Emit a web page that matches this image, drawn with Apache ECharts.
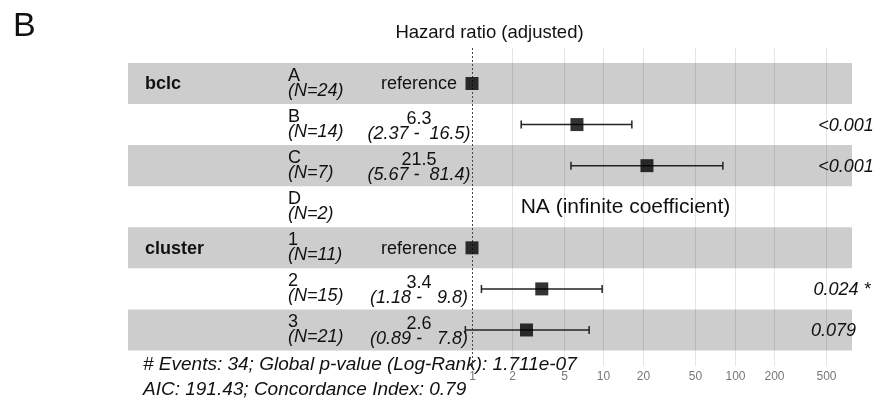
<!DOCTYPE html>
<html>
<head>
<meta charset="utf-8">
<script src="https://cdn.jsdelivr.net/npm/echarts@6/dist/echarts.min.js"></script>
<style>
  html, body { margin: 0; padding: 0; background: #fff; }
  #chart { width: 888px; height: 408px; }
</style>
</head>
<body>
<div id="chart"></div>
<script>
// data
const variables = ['bclc', 'cluster'];
const variableRows = [0, 4];
const levels = ['A', 'B', 'C', 'D', '1', '2', '3'];
const counts = [24, 14, 7, 2, 11, 15, 21];
const isReference = [true, false, false, false, true, false, false];
const hazardRatios = [1, 6.3, 21.5, null, 1, 3.4, 2.6];
const ciLow = [null, 2.37, 5.67, null, null, 1.18, 0.89];
const ciHigh = [null, 16.5, 81.4, null, null, 9.8, 7.8];
const pValues = ['', '<0.001 ***', '<0.001 ***', '', '', '0.024 *', '0.079'];
const naLabel = 'NA (infinite coefficient)';
const xTicks = [1, 2, 5, 10, 20, 50, 100, 200, 500];
const titleText = 'Hazard ratio (adjusted)';
const panelTag = 'B';
const footerLines = [
  '# Events: 34; Global p-value (Log-Rank): 1.711e-07',
  'AIC: 191.43; Concordance Index: 0.79'
];

// layout
const fontFamily = "'Liberation Sans', Arial, Helvetica, sans-serif";
const textColor = '#111';
const xOnePx = 472, decadePx = 131.3;
const gridLeft = 128, gridRight = 852, gridTop = 48, gridBottom = 366;
const row0Px = 83.5, rowPx = 41.08;
const colVariable = 145, colLevel = 288, colEstimate = 419;
const pAnchor = 802, pClip = 875, naCenter = 625.5;

const xMin = Math.pow(10, (gridLeft - xOnePx) / decadePx);
const xMax = Math.pow(10, (gridRight - xOnePx) / decadePx);
const yMin = (gridTop - row0Px) / rowPx;
const yMax = (gridBottom - row0Px) / rowPx;

const measureCtx = document.createElement('canvas').getContext('2d');
const textWidth = (text, font) => {
  measureCtx.font = font;
  return measureCtx.measureText(text).width;
};

const font = (size, style) => (style ? style + ' ' : '') + size + 'px ' + fontFamily;

const txt = (x, y, text, f, align) => ({
  type: 'text',
  x: x,
  y: y,
  style: {
    text: text,
    font: f,
    fill: textColor,
    align: align || 'left',
    verticalAlign: 'middle'
  }
});

const rows = levels.map((l, i) => [1, i]);

const bandSeries = {
  type: 'custom',
  silent: true,
  z: 1,
  data: rows.filter((r) => r[1] % 2 === 0),
  encode: { x: 0, y: 1 },
  renderItem: (params, api) => {
    const i = api.value(1);
    const y0 = api.coord([1, i - 0.5])[1];
    const y1 = api.coord([1, i + 0.5])[1];
    const cs = params.coordSys;
    return {
      type: 'rect',
      shape: { x: cs.x, y: y0, width: cs.width, height: y1 - y0 },
      style: { fill: '#cdcdcd' }
    };
  }
};

const gridSeries = {
  type: 'custom',
  silent: true,
  z: 2,
  data: xTicks.map((v) => [v, 0]),
  encode: { x: 0, y: 1 },
  renderItem: (params, api) => {
    const v = api.value(0);
    const x = Math.round(api.coord([v, 0])[0]) + 0.5;
    const cs = params.coordSys;
    const children = [];
    if (v === 1) {
      children.push({
        type: 'line',
        shape: { x1: x, y1: cs.y, x2: x, y2: cs.y + cs.height },
        style: { stroke: '#444', lineWidth: 1, lineDash: [2, 2] }
      });
    } else {
      children.push({
        type: 'line',
        shape: { x1: x, y1: cs.y, x2: x, y2: cs.y + cs.height },
        style: { stroke: 'rgba(0,0,0,0.1)', lineWidth: 1 }
      });
    }
    children.push({
      type: 'text',
      x: x,
      y: cs.y + cs.height + 11,
      style: {
        text: String(v),
        font: font(12),
        fill: '#777',
        align: 'center',
        verticalAlign: 'middle'
      }
    });
    return { type: 'group', children: children };
  }
};

const errorSeries = {
  type: 'custom',
  silent: true,
  z: 3,
  data: rows.filter((r) => ciLow[r[1]] != null).map((r) => [ciLow[r[1]], r[1], ciHigh[r[1]]]),
  encode: { x: [0, 2], y: 1 },
  renderItem: (params, api) => {
    const p0 = api.coord([api.value(0), api.value(1)]);
    const p1 = api.coord([api.value(2), api.value(1)]);
    const st = { stroke: '#222', lineWidth: 1.5 };
    return {
      type: 'group',
      children: [
        { type: 'line', shape: { x1: p0[0], y1: p0[1], x2: p1[0], y2: p1[1] }, style: st },
        { type: 'line', shape: { x1: p0[0], y1: p0[1] - 4, x2: p0[0], y2: p0[1] + 4 }, style: st },
        { type: 'line', shape: { x1: p1[0], y1: p1[1] - 4, x2: p1[0], y2: p1[1] + 4 }, style: st }
      ]
    };
  }
};

const pointSeries = {
  type: 'scatter',
  silent: true,
  z: 4,
  symbol: 'rect',
  symbolSize: 13,
  itemStyle: { color: '#000' },
  data: hazardRatios.map((v, i) => (v == null ? null : [v, i])).filter((d) => d)
};

const tableSeries = {
  type: 'custom',
  silent: true,
  z: 5,
  data: rows,
  encode: { x: 0, y: 1 },
  renderItem: (params, api) => {
    const i = api.value(1);
    const y = api.coord([1, i])[1];
    const children = [];
    const vIdx = variableRows.indexOf(i);
    if (vIdx >= 0) {
      children.push(txt(colVariable, y + 1, variables[vIdx], font(18, 'bold')));
    }
    children.push(txt(colLevel, y - 7.5, levels[i], font(18)));
    children.push(txt(colLevel, y + 7.5, '(N=' + counts[i] + ')', font(18, 'italic')));
    if (isReference[i]) {
      children.push(txt(colEstimate, y + 1, 'reference', font(18), 'center'));
    } else if (hazardRatios[i] != null) {
      const ci = '(' + ciLow[i].toFixed(2).padStart(4) + ' - ' + ciHigh[i].toFixed(1).padStart(5) + ')';
      children.push(txt(colEstimate, y - 6, String(hazardRatios[i]), font(18), 'center'));
      children.push(txt(colEstimate, y + 9, ci, font(18, 'italic'), 'center'));
    } else {
      children.push(txt(naCenter, y, naLabel, font(21), 'center'));
    }
    if (pValues[i]) {
      // hjust = -0.2 and clipped at the panel edge, like ggforest
      const f = font(18, 'italic');
      const start = pAnchor + 0.2 * textWidth(pValues[i], f);
      let shown = pValues[i];
      while (shown.length && start + textWidth(shown, f) > pClip) {
        shown = shown.slice(0, -1);
      }
      children.push(txt(start, y + 1, shown.trimEnd(), f));
    }
    return { type: 'group', children: children };
  }
};

const chart = echarts.init(document.getElementById('chart'));
chart.setOption({
  animation: false,
  backgroundColor: '#fff',
  grid: {
    left: gridLeft,
    right: 888 - gridRight,
    top: gridTop,
    bottom: 408 - gridBottom
  },
  xAxis: {
    type: 'log',
    logBase: 10,
    min: xMin,
    max: xMax,
    axisLine: { show: false },
    axisTick: { show: false },
    axisLabel: { show: false },
    splitLine: { show: false }
  },
  yAxis: {
    type: 'value',
    inverse: true,
    min: yMin,
    max: yMax,
    axisLine: { show: false },
    axisTick: { show: false },
    axisLabel: { show: false },
    splitLine: { show: false }
  },
  graphic: [
    {
      type: 'text',
      x: 13,
      y: 27,
      style: { text: panelTag, font: font(34), fill: textColor, align: 'left', verticalAlign: 'middle' }
    },
    {
      type: 'text',
      x: 489.5,
      y: 33,
      style: { text: titleText, font: font(18.5), fill: textColor, align: 'center', verticalAlign: 'middle' }
    },
    {
      type: 'text',
      x: 143,
      y: 365,
      style: { text: footerLines[0], font: font(19, 'italic'), fill: textColor, align: 'left', verticalAlign: 'middle' }
    },
    {
      type: 'text',
      x: 143,
      y: 390,
      style: { text: footerLines[1], font: font(19, 'italic'), fill: textColor, align: 'left', verticalAlign: 'middle' }
    }
  ],
  series: [bandSeries, gridSeries, errorSeries, pointSeries, tableSeries]
});
</script>
</body>
</html>
